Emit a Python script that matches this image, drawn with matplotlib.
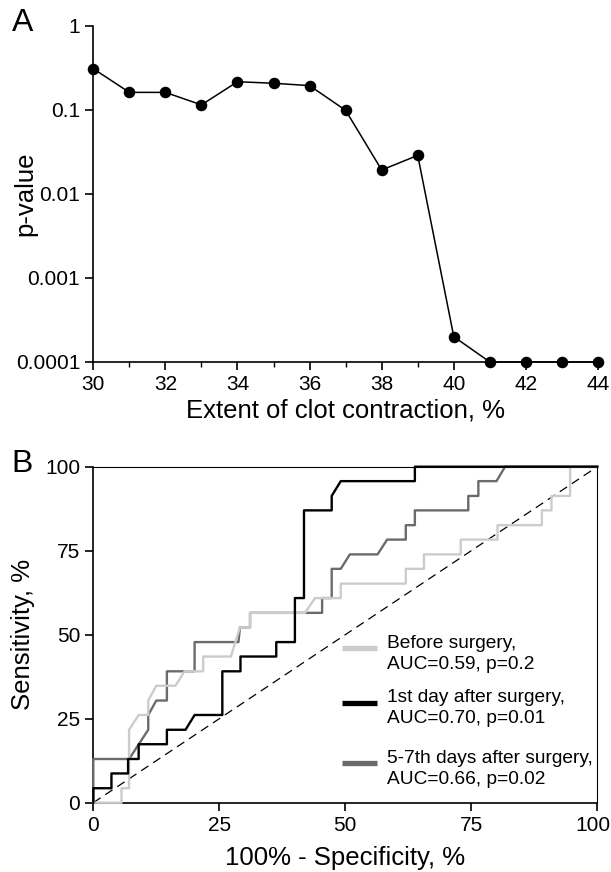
import matplotlib
matplotlib.use("Agg")
import matplotlib.pyplot as plt
from matplotlib.ticker import FixedLocator, NullLocator
from matplotlib.transforms import ScaledTranslation

plt.rcParams['font.family'] = ['Liberation Sans', 'DejaVu Sans']

# panel A: p-value vs threshold of clot contraction
contraction = [30, 31, 32, 33, 34, 35, 36, 37, 38, 39, 40, 41, 42, 43, 44]
p_values = [0.31, 0.162, 0.162, 0.115, 0.217, 0.208, 0.195, 0.099, 0.0193, 0.0288,
            0.0002, 0.0001, 0.0001, 0.0001, 0.0001]
p_ticks = [0.0001, 0.001, 0.01, 0.1, 1]
p_tick_labels = ['0.0001', '0.001', '0.01', '0.1', '1']

# panel B: ROC curves (1 - specificity, sensitivity), %
before_fpr = [0, 5.6, 5.6, 7.1, 7.1, 9.0, 10.9, 10.9, 12.5, 16.3, 18.1, 21.8, 21.8, 27.3,
              29.1, 31.1, 31.1, 42.0, 44.0, 49.1, 49.1, 62.0, 62.0, 65.6, 65.6, 72.9,
              72.9, 80.2, 80.2, 89.0, 89.0, 90.9, 90.9, 94.6, 94.6, 100]
before_tpr = [0, 0, 4.3, 4.3, 21.7, 26.1, 26.1, 30.4, 34.8, 34.8, 39.1, 39.1, 43.5, 43.5,
              52.2, 52.2, 56.5, 56.5, 60.9, 60.9, 65.2, 65.2, 69.6, 69.6, 73.9, 73.9,
              78.3, 78.3, 82.6, 82.6, 87.0, 87.0, 91.3, 91.3, 100, 100]

day1_fpr = [0, 0, 3.6, 3.6, 6.9, 6.9, 9.0, 9.0, 14.6, 14.6, 18.3, 20.1, 25.6, 25.6, 29.2,
            29.2, 36.3, 36.3, 40.0, 40.0, 41.8, 41.8, 47.3, 47.3, 49.1, 63.8, 63.8, 100]
day1_tpr = [0, 4.3, 4.3, 8.7, 8.7, 13.0, 13.0, 17.4, 17.4, 21.7, 21.7, 26.1, 26.1, 39.1,
            39.1, 43.5, 43.5, 47.8, 47.8, 60.9, 60.9, 87.0, 87.0, 91.3, 95.7, 95.7, 100, 100]

day57_fpr = [0, 0, 7.1, 10.9, 10.9, 12.5, 14.6, 14.6, 20.1, 20.1, 28.8, 29.1, 31.1, 31.1,
             45.4, 45.4, 47.3, 47.3, 49.1, 50.9, 56.4, 58.3, 62.0, 62.0, 63.8, 63.8,
             74.4, 74.4, 76.4, 76.4, 80.0, 81.7, 100]
day57_tpr = [0, 13.0, 13.0, 21.7, 26.1, 30.4, 30.4, 39.1, 39.1, 47.8, 47.8, 52.2, 52.2,
             56.5, 56.5, 60.9, 60.9, 69.6, 69.6, 73.9, 73.9, 78.3, 78.3, 82.6, 82.6, 87.0,
             87.0, 91.3, 91.3, 95.7, 95.7, 100, 100]

legend_labels = ['Before surgery,\nAUC=0.59, p=0.2',
                 '1st day after surgery,\nAUC=0.70, p=0.01',
                 '5-7th days after surgery,\nAUC=0.66, p=0.02']
light = '#cccccc'
dark = '#6b6b6b'

fig = plt.figure(figsize=(6.11, 8.72), dpi=100)

# ---- panel A
axA = fig.add_axes([0.1527, 0.5849, 0.826, 0.3853])
axA.plot(contraction, p_values, color='black', lw=1.1, marker='o', ms=7.3,
         clip_on=False, zorder=3)
axA.set_yscale('log')
axA.set_xlim(30, 44)
axA.set_ylim(1e-4, 1)
axA.yaxis.set_major_locator(FixedLocator(p_ticks))
axA.set_yticklabels(p_tick_labels)
axA.yaxis.set_minor_locator(NullLocator())
axA.set_xticks(range(30, 45, 2))
axA.set_xticks(range(31, 44, 2), minor=True)
for s in ['top', 'right']:
    axA.spines[s].set_visible(False)
axA.set_xlabel('Extent of clot contraction, %', fontsize=18.5, va='center')
axA.set_ylabel('p-value', fontsize=18.5, va='center')
axA.xaxis.set_label_coords(0.5, -0.143)
axA.yaxis.set_label_coords(-0.135, 0.5)

# ---- panel B
axB = fig.add_axes([0.1527, 0.0795, 0.8249, 0.3853])
axB.plot([0, 100], [0, 100], color='black', lw=0.9, dashes=(7, 4.5))
axB.plot(day57_fpr, day57_tpr, color=dark, lw=1.7, clip_on=False, zorder=3)
axB.plot(before_fpr, before_tpr, color=light, lw=1.7, clip_on=False, zorder=4)
axB.plot(day1_fpr, day1_tpr, color='black', lw=1.7, clip_on=False, zorder=5)
axB.set_xlim(0, 100)
axB.set_ylim(0, 100)
axB.set_xticks([0, 25, 50, 75, 100])
axB.set_yticks([0, 25, 50, 75, 100])
axB.spines['top'].set_linewidth(0.8)
axB.spines['right'].set_linewidth(0.8)
axB.set_xlabel('100% - Specificity, %', fontsize=18.5, va='center')
axB.set_ylabel('Sensitivity, %', fontsize=18.5, va='center')
axB.xaxis.set_label_coords(0.5, -0.165)
axB.yaxis.set_label_coords(-0.14, 0.5)

# manual legend
handle_y = [46.0, 29.8, 11.7]
text_y = [44.3, 28.2, 10.0]
for lab, col, hy, ty in zip(legend_labels, [light, 'black', dark], handle_y, text_y):
    axB.plot([49.3, 56.3], [hy, hy], color=col, lw=3.8, solid_capstyle='butt')
    axB.text(58.2, ty, lab, fontsize=13.8, va='center', ha='left', linespacing=1.3)

for ax in (axA, axB):
    for s in ['left', 'bottom']:
        ax.spines[s].set_linewidth(1.2)
    ax.tick_params(which='major', length=5.5, width=1.2, labelsize=15, pad=4)
    ax.tick_params(which='minor', length=3.5, width=1.0)

fig.text(0.019, 1 - 23 / 872, 'A', fontsize=23, va='center', ha='left')
fig.text(0.019, 1 - 464 / 872, 'B', fontsize=23, va='center', ha='left')

# keep the "100" tick label of panel B inside the picture
fig.canvas.draw()
last = axB.get_xticklabels()[-1]
last.set_transform(last.get_transform() + ScaledTranslation(-4 / 100, 0, fig.dpi_scale_trans))

fig.savefig('out.png', dpi=100)
